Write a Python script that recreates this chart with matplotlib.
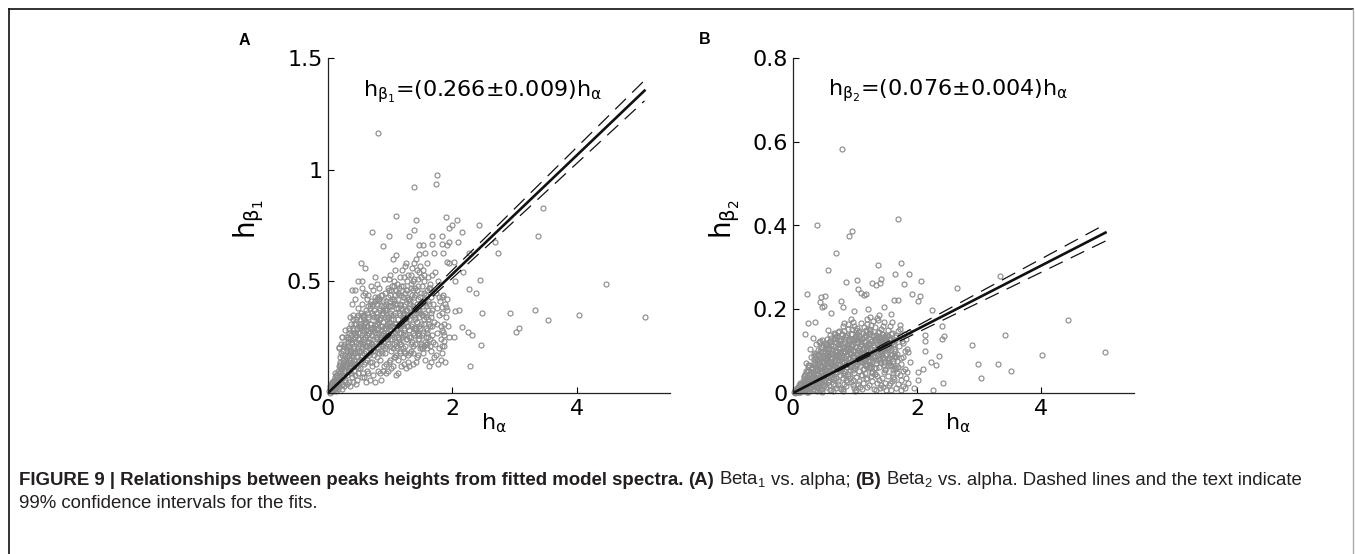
import matplotlib
matplotlib.use("Agg")
import matplotlib.pyplot as plt
from matplotlib.lines import Line2D

# h_alpha of the dense cloud (shared by both panels)
alpha = [
    0.02, 0.03, 0.04, 0.05, 0.06, 0.07, 0.08, 0.09, 0.10, 0.11, 0.12, 0.13,
    0.04, 0.06, 0.08, 0.10, 0.12, 0.14, 0.15, 0.05, 0.09, 0.13, 0.07, 0.11,
    0.16, 0.17, 0.18, 0.19, 0.20, 0.21, 0.22, 0.23, 0.24, 0.25, 0.26, 0.27,
    0.16, 0.18, 0.20, 0.22, 0.24, 0.26, 0.28, 0.29, 0.19, 0.23, 0.27, 0.21,
    0.28, 0.29, 0.30, 0.17, 0.25, 0.30, 0.22, 0.26, 0.18, 0.24, 0.28, 0.20,
    0.31, 0.32, 0.33, 0.34, 0.35, 0.36, 0.37, 0.38, 0.39, 0.40, 0.41, 0.42,
    0.43, 0.44, 0.45, 0.46, 0.47, 0.48, 0.49, 0.50, 0.31, 0.34, 0.37, 0.40,
    0.42, 0.45, 0.48, 0.33, 0.36, 0.39, 0.44, 0.47, 0.50, 0.35, 0.41, 0.46,
    0.32, 0.38, 0.43, 0.49, 0.36, 0.40, 0.47, 0.44, 0.34, 0.48, 0.42, 0.39,
    0.51, 0.52, 0.53, 0.54, 0.55, 0.56, 0.57, 0.58, 0.59, 0.60, 0.61, 0.62,
    0.63, 0.64, 0.65, 0.66, 0.67, 0.68, 0.69, 0.70, 0.52, 0.55, 0.58, 0.61,
    0.64, 0.67, 0.70, 0.53, 0.56, 0.59, 0.62, 0.65, 0.68, 0.54, 0.60, 0.66,
    0.57, 0.63, 0.69, 0.51, 0.58, 0.65, 0.62, 0.56, 0.68, 0.60, 0.53, 0.67,
    0.71, 0.72, 0.73, 0.74, 0.75, 0.76, 0.77, 0.78, 0.79, 0.80, 0.81, 0.82,
    0.83, 0.84, 0.85, 0.86, 0.87, 0.88, 0.89, 0.90, 0.72, 0.75, 0.78, 0.81,
    0.84, 0.87, 0.90, 0.73, 0.76, 0.79, 0.82, 0.85, 0.88, 0.74, 0.80, 0.86,
    0.77, 0.83, 0.89, 0.71, 0.78, 0.85, 0.82, 0.76, 0.88, 0.80, 0.73, 0.87,
    0.91, 0.92, 0.93, 0.94, 0.95, 0.96, 0.97, 0.98, 0.99, 1.00, 1.01, 1.02,
    1.03, 1.04, 1.05, 1.06, 1.07, 1.08, 1.09, 1.10, 0.92, 0.95, 0.98, 1.01,
    1.04, 1.07, 1.10, 0.93, 0.96, 0.99, 1.02, 1.05, 1.08, 0.94, 1.00, 1.06,
    0.97, 1.03, 1.09, 0.91, 0.98, 1.05, 1.02, 0.96, 1.08, 1.00, 0.94, 1.06,
    1.11, 1.12, 1.13, 1.14, 1.15, 1.16, 1.17, 1.18, 1.19, 1.20, 1.21, 1.22,
    1.23, 1.24, 1.25, 1.26, 1.27, 1.28, 1.29, 1.30, 1.12, 1.15, 1.18, 1.21,
    1.24, 1.27, 1.30, 1.13, 1.16, 1.19, 1.22, 1.25, 1.28, 1.14, 1.20, 1.26,
    1.17, 1.23, 1.29, 1.11, 1.18, 1.25, 1.22, 1.16, 1.28, 1.20, 1.14, 1.26,
    1.31, 1.32, 1.33, 1.34, 1.35, 1.36, 1.37, 1.38, 1.39, 1.40, 1.41, 1.42,
    1.43, 1.44, 1.45, 1.46, 1.47, 1.48, 1.49, 1.50, 1.32, 1.35, 1.38, 1.41,
    1.44, 1.47, 1.50, 1.33, 1.36, 1.39, 1.42, 1.45, 1.48, 1.34, 1.40, 1.46,
    1.37, 1.43, 1.49, 1.31, 1.38, 1.45, 1.42, 1.36, 1.48, 1.40, 1.34, 1.46,
    1.51, 1.52, 1.53, 1.54, 1.55, 1.56, 1.57, 1.58, 1.59, 1.60, 1.61, 1.62,
    1.63, 1.64, 1.65, 1.66, 1.67, 1.68, 1.69, 1.70, 1.52, 1.56, 1.60, 1.64,
    1.55, 1.58, 1.62, 1.66, 1.69, 1.53, 1.57, 1.61, 1.65, 1.68, 1.54, 1.59,
    1.71, 1.72, 1.73, 1.74, 1.75, 1.76, 1.77, 1.78, 1.79, 1.80, 1.81, 1.82,
    1.83, 1.84, 1.85, 1.86, 1.87, 1.88, 1.72, 1.75, 1.78, 1.81, 1.84, 1.77,
    0.055, 0.065, 0.075, 0.085, 0.095, 0.105, 0.115, 0.125, 0.135, 0.145, 0.155, 0.165,
    0.175, 0.185, 0.195, 0.205, 0.215, 0.225, 0.235, 0.245, 0.255, 0.265, 0.275, 0.285,
    0.295, 0.305, 0.315, 0.325, 0.335, 0.345, 0.355, 0.365, 0.375, 0.385, 0.395, 0.405,
    0.415, 0.425, 0.435, 0.445, 0.455, 0.465, 0.475, 0.485, 0.495, 0.305, 0.335, 0.365,
    0.395, 0.425, 0.455, 0.485, 0.315, 0.345, 0.375, 0.405, 0.435, 0.465, 0.495, 0.355,
    0.505, 0.515, 0.525, 0.535, 0.545, 0.555, 0.565, 0.575, 0.585, 0.595, 0.605, 0.615,
    0.625, 0.635, 0.645, 0.655, 0.665, 0.675, 0.685, 0.695, 0.705, 0.715, 0.725, 0.735,
    0.745, 0.755, 0.765, 0.775, 0.785, 0.795, 0.805, 0.815, 0.825, 0.835, 0.845, 0.855,
    0.865, 0.875, 0.885, 0.895, 0.515, 0.545, 0.575, 0.605, 0.635, 0.665, 0.695, 0.725,
    0.755, 0.785, 0.815, 0.845, 0.875, 0.525, 0.555, 0.585, 0.615, 0.645, 0.675, 0.705,
    0.735, 0.765, 0.795, 0.825, 0.855, 0.885, 0.905, 0.915, 0.925, 0.935, 0.945, 0.955,
    0.965, 0.975, 0.985, 0.995, 1.005, 1.015, 1.025, 1.035, 1.045, 1.055, 1.065, 1.075,
    1.085, 1.095, 1.105, 1.115, 1.125, 1.135, 1.145, 1.155, 1.165, 1.175, 1.185, 1.195,
    1.205, 1.215, 1.225, 1.235, 1.245, 1.255, 1.265, 1.275, 1.285, 1.295, 0.915, 0.945,
    0.975, 1.005, 1.035, 1.065, 1.095, 1.125, 1.155, 1.185, 1.215, 1.245, 1.275, 0.995,
    1.055, 1.115, 1.175, 1.235, 1.295, 1.025, 1.085, 1.145, 1.205, 1.265, 0.935, 1.135,
    1.305, 1.315, 1.325, 1.335, 1.345, 1.355, 1.365, 1.375, 1.385, 1.395, 1.405, 1.415,
    1.425, 1.435, 1.445, 1.455, 1.465, 1.475, 1.485, 1.495, 1.505, 1.515, 1.525, 1.535,
    1.545, 1.555, 1.565, 1.575, 1.585, 1.595, 1.605, 1.615, 1.625, 1.635, 1.645, 1.655,
    1.335, 1.365, 1.395, 1.425, 1.455, 1.485, 1.515, 1.545, 1.575, 1.605, 1.635, 1.665,
]

# h_beta1 of the dense cloud (panel A)
beta1 = [
    0.01, 0.00, 0.02, 0.01, 0.03, 0.01, 0.04, 0.02, 0.05, 0.02, 0.06, 0.03,
    0.03, 0.02, 0.01, 0.03, 0.02, 0.04, 0.08, 0.04, 0.06, 0.01, 0.05, 0.09,
    0.05, 0.12, 0.03, 0.09, 0.16, 0.06, 0.11, 0.02, 0.19, 0.08, 0.14, 0.05,
    0.02, 0.07, 0.10, 0.04, 0.13, 0.21, 0.09, 0.25, 0.14, 0.17, 0.12, 0.22,
    0.06, 0.15, 0.04, 0.08, 0.03, 0.19, 0.25, 0.10, 0.20, 0.07, 0.28, 0.12,
    0.08, 0.14, 0.27, 0.05, 0.18, 0.11, 0.31, 0.22, 0.07, 0.16, 0.35, 0.10,
    0.25, 0.13, 0.04, 0.19, 0.29, 0.09, 0.38, 0.15, 0.21, 0.12, 0.09, 0.28,
    0.21, 0.33, 0.24, 0.17, 0.24, 0.13, 0.42, 0.06, 0.30, 0.03, 0.18, 0.12,
    0.24, 0.17, 0.08, 0.20, 0.34, 0.05, 0.16, 0.27, 0.29, 0.35, 0.31, 0.40,
    0.11, 0.22, 0.36, 0.07, 0.17, 0.28, 0.44, 0.13, 0.21, 0.32, 0.05, 0.26,
    0.15, 0.39, 0.09, 0.23, 0.31, 0.18, 0.48, 0.12, 0.29, 0.40, 0.33, 0.19,
    0.27, 0.06, 0.36, 0.16, 0.09, 0.25, 0.42, 0.34, 0.24, 0.47, 0.14, 0.20,
    0.24, 0.21, 0.29, 0.31, 0.07, 0.44, 0.10, 0.35, 0.40, 0.45, 0.19, 0.14,
    0.22, 0.35, 0.08, 0.17, 0.41, 0.27, 0.13, 0.31, 0.49, 0.20, 0.10, 0.38,
    0.25, 0.15, 0.44, 0.06, 0.30, 0.21, 0.36, 0.12, 0.46, 0.05, 0.24, 0.29,
    0.33, 0.18, 0.51, 0.29, 0.19, 0.16, 0.23, 0.28, 0.41, 0.37, 0.43, 0.24,
    0.34, 0.09, 0.27, 0.14, 0.42, 0.19, 0.47, 0.52, 0.10, 0.32, 0.40, 0.36,
    0.26, 0.18, 0.40, 0.09, 0.31, 0.47, 0.22, 0.14, 0.36, 0.53, 0.28, 0.11,
    0.42, 0.20, 0.33, 0.50, 0.16, 0.27, 0.38, 0.08, 0.45, 0.24, 0.30, 0.19,
    0.35, 0.44, 0.23, 0.13, 0.34, 0.21, 0.46, 0.12, 0.55, 0.29, 0.39, 0.25,
    0.43, 0.30, 0.17, 0.37, 0.51, 0.27, 0.33, 0.10, 0.31, 0.15, 0.21, 0.41,
    0.29, 0.45, 0.15, 0.36, 0.22, 0.52, 0.31, 0.12, 0.41, 0.26, 0.48, 0.19,
    0.34, 0.57, 0.24, 0.11, 0.43, 0.30, 0.17, 0.38, 0.09, 0.40, 0.27, 0.33,
    0.21, 0.50, 0.28, 0.25, 0.18, 0.55, 0.39, 0.46, 0.14, 0.47, 0.35, 0.32,
    0.38, 0.13, 0.53, 0.20, 0.44, 0.37, 0.28, 0.31, 0.42, 0.16, 0.24, 0.58,
    0.33, 0.18, 0.47, 0.25, 0.56, 0.39, 0.13, 0.29, 0.51, 0.22, 0.36, 0.60,
    0.16, 0.42, 0.27, 0.54, 0.34, 0.20, 0.45, 0.31, 0.40, 0.23, 0.58, 0.14,
    0.37, 0.26, 0.52, 0.30, 0.21, 0.43, 0.28, 0.17, 0.40, 0.49, 0.33, 0.24,
    0.46, 0.55, 0.21, 0.12, 0.35, 0.48, 0.38, 0.27, 0.57, 0.44, 0.19, 0.30,
    0.26, 0.41, 0.18, 0.50, 0.33, 0.15, 0.44, 0.29, 0.58, 0.22, 0.37, 0.12,
    0.47, 0.24, 0.34, 0.19, 0.53, 0.30, 0.40, 0.16, 0.55, 0.36, 0.28, 0.49,
    0.21, 0.39, 0.31, 0.43, 0.23, 0.35, 0.25, 0.52, 0.14, 0.37, 0.45, 0.20,
    0.32, 0.22, 0.45, 0.17, 0.38, 0.27, 0.50, 0.20, 0.35, 0.41, 0.24, 0.30,
    0.18, 0.36, 0.44, 0.26, 0.21, 0.40, 0.54, 0.31, 0.43, 0.15, 0.28, 0.13,
    0.02, 0.04, 0.03, 0.05, 0.02, 0.07, 0.04, 0.08, 0.03, 0.06, 0.10, 0.04,
    0.09, 0.13, 0.06, 0.11, 0.18, 0.08, 0.15, 0.12, 0.22, 0.10, 0.17, 0.13,
    0.20, 0.12, 0.17, 0.23, 0.10, 0.21, 0.15, 0.26, 0.19, 0.14, 0.24, 0.20,
    0.13, 0.27, 0.18, 0.23, 0.31, 0.16, 0.22, 0.27, 0.19, 0.16, 0.28, 0.12,
    0.29, 0.15, 0.26, 0.11, 0.25, 0.15, 0.23, 0.33, 0.25, 0.34, 0.24, 0.19,
    0.19, 0.27, 0.23, 0.30, 0.20, 0.34, 0.22, 0.18, 0.29, 0.25, 0.37, 0.21,
    0.30, 0.26, 0.33, 0.17, 0.27, 0.38, 0.22, 0.31, 0.26, 0.29, 0.24, 0.34,
    0.21, 0.31, 0.36, 0.25, 0.28, 0.40, 0.27, 0.33, 0.18, 0.37, 0.30, 0.22,
    0.35, 0.26, 0.32, 0.39, 0.33, 0.26, 0.31, 0.28, 0.36, 0.21, 0.41, 0.19,
    0.43, 0.34, 0.41, 0.26, 0.44, 0.14, 0.30, 0.35, 0.32, 0.23, 0.29, 0.39,
    0.28, 0.20, 0.31, 0.42, 0.39, 0.23, 0.29, 0.34, 0.25, 0.41, 0.30, 0.37,
    0.27, 0.39, 0.32, 0.24, 0.44, 0.35, 0.26, 0.39, 0.30, 0.42, 0.22, 0.36,
    0.31, 0.46, 0.28, 0.40, 0.33, 0.23, 0.44, 0.35, 0.29, 0.48, 0.25, 0.37,
    0.43, 0.29, 0.36, 0.26, 0.40, 0.33, 0.46, 0.24, 0.35, 0.42, 0.20, 0.33,
    0.46, 0.30, 0.24, 0.48, 0.21, 0.38, 0.19, 0.31, 0.52, 0.18, 0.30, 0.41,
    0.16, 0.49, 0.22, 0.45, 0.25, 0.48, 0.40, 0.27, 0.20, 0.37, 0.38, 0.30,
    0.28, 0.41, 0.35, 0.22, 0.44, 0.31, 0.50, 0.26, 0.38, 0.34, 0.47, 0.29,
    0.40, 0.32, 0.24, 0.51, 0.37, 0.29, 0.43, 0.22, 0.35, 0.48, 0.27, 0.39,
    0.31, 0.23, 0.42, 0.34, 0.27, 0.46, 0.33, 0.25, 0.40, 0.30, 0.21, 0.36,
    0.53, 0.18, 0.29, 0.46, 0.26, 0.36, 0.20, 0.53, 0.22, 0.41, 0.47, 0.26,
]

# h_beta2 of the dense cloud (panel B)
beta2 = [
    0.002, 0.005, 0.001, 0.008, 0.004, 0.012, 0.003, 0.010, 0.006, 0.015, 0.002, 0.009,
    0.006, 0.002, 0.011, 0.004, 0.018, 0.007, 0.013, 0.003, 0.020, 0.005, 0.009, 0.025,
    0.012, 0.030, 0.004, 0.021, 0.045, 0.008, 0.016, 0.035, 0.003, 0.055, 0.024, 0.011,
    0.006, 0.038, 0.014, 0.027, 0.062, 0.005, 0.042, 0.019, 0.009, 0.050, 0.031, 0.072,
    0.013, 0.085, 0.028, 0.017, 0.039, 0.058, 0.003, 0.068, 0.024, 0.020, 0.104, 0.033,
    0.022, 0.048, 0.010, 0.075, 0.036, 0.094, 0.015, 0.057, 0.004, 0.081, 0.043, 0.026,
    0.063, 0.008, 0.110, 0.034, 0.052, 0.019, 0.088, 0.041, 0.060, 0.029, 0.118, 0.012,
    0.072, 0.025, 0.099, 0.040, 0.006, 0.066, 0.031, 0.126, 0.016, 0.052, 0.092, 0.003,
    0.132, 0.037, 0.084, 0.058, 0.024, 0.047, 0.010, 0.101, 0.068, 0.035, 0.122, 0.078,
    0.045, 0.083, 0.014, 0.112, 0.061, 0.027, 0.096, 0.052, 0.138, 0.008, 0.074, 0.038,
    0.105, 0.022, 0.067, 0.144, 0.049, 0.086, 0.011, 0.121, 0.030, 0.128, 0.019, 0.093,
    0.058, 0.131, 0.036, 0.070, 0.150, 0.042, 0.116, 0.005, 0.064, 0.090, 0.054, 0.080,
    0.026, 0.072, 0.098, 0.119, 0.077, 0.033, 0.007, 0.104, 0.140, 0.125, 0.056, 0.018,
    0.063, 0.108, 0.021, 0.085, 0.147, 0.044, 0.127, 0.009, 0.071, 0.160, 0.035, 0.095,
    0.053, 0.137, 0.016, 0.079, 0.114, 0.040, 0.153, 0.067, 0.029, 0.091, 0.120, 0.004,
    0.101, 0.027, 0.129, 0.058, 0.013, 0.141, 0.074, 0.088, 0.164, 0.118, 0.048, 0.032,
    0.082, 0.166, 0.046, 0.133, 0.055, 0.109, 0.022, 0.099, 0.072, 0.010, 0.145, 0.061,
    0.084, 0.036, 0.142, 0.061, 0.112, 0.019, 0.170, 0.075, 0.048, 0.128, 0.092, 0.007,
    0.156, 0.066, 0.103, 0.028, 0.137, 0.087, 0.044, 0.118, 0.095, 0.152, 0.012, 0.070,
    0.122, 0.053, 0.081, 0.026, 0.100, 0.161, 0.039, 0.145, 0.015, 0.176, 0.059, 0.108,
    0.031, 0.096, 0.168, 0.120, 0.089, 0.022, 0.133, 0.056, 0.077, 0.004, 0.094, 0.149,
    0.073, 0.131, 0.025, 0.099, 0.158, 0.047, 0.114, 0.064, 0.177, 0.035, 0.086, 0.140,
    0.018, 0.105, 0.068, 0.163, 0.051, 0.124, 0.090, 0.009, 0.043, 0.082, 0.148, 0.116,
    0.150, 0.029, 0.135, 0.107, 0.070, 0.014, 0.061, 0.182, 0.097, 0.125, 0.102, 0.040,
    0.088, 0.060, 0.172, 0.010, 0.033, 0.118, 0.076, 0.138, 0.048, 0.165, 0.057, 0.094,
    0.110, 0.046, 0.157, 0.080, 0.023, 0.134, 0.095, 0.062, 0.186, 0.012, 0.121, 0.071,
    0.142, 0.037, 0.106, 0.084, 0.169, 0.054, 0.025, 0.128, 0.085, 0.178, 0.031, 0.098,
    0.119, 0.066, 0.007, 0.045, 0.103, 0.146, 0.019, 0.160, 0.091, 0.131, 0.074, 0.050,
    0.174, 0.090, 0.113, 0.059, 0.127, 0.014, 0.152, 0.041, 0.137, 0.099, 0.008, 0.124,
    0.081, 0.136, 0.040, 0.105, 0.018, 0.159, 0.067, 0.093, 0.028, 0.143, 0.055, 0.117,
    0.034, 0.088, 0.126, 0.011, 0.076, 0.047, 0.148, 0.062, 0.109, 0.024, 0.170, 0.100,
    0.130, 0.008, 0.072, 0.139, 0.021, 0.151, 0.115, 0.039, 0.058, 0.094, 0.064, 0.122,
    0.113, 0.042, 0.153, 0.069, 0.030, 0.124, 0.086, 0.017, 0.140, 0.057, 0.101, 0.036,
    0.128, 0.049, 0.097, 0.025, 0.145, 0.074, 0.162, 0.083, 0.119, 0.013, 0.106, 0.052,
    0.004, 0.009, 0.002, 0.014, 0.007, 0.003, 0.016, 0.010, 0.022, 0.006, 0.012, 0.028,
    0.018, 0.041, 0.007, 0.026, 0.052, 0.014, 0.033, 0.066, 0.021, 0.046, 0.011, 0.058,
    0.037, 0.063, 0.019, 0.049, 0.081, 0.028, 0.070, 0.044, 0.091, 0.012, 0.056, 0.102,
    0.035, 0.076, 0.051, 0.097, 0.023, 0.064, 0.109, 0.043, 0.071, 0.027, 0.088, 0.059,
    0.079, 0.018, 0.061, 0.115, 0.047, 0.096, 0.032, 0.069, 0.124, 0.047, 0.085, 0.054,
    0.067, 0.099, 0.041, 0.078, 0.118, 0.055, 0.089, 0.030, 0.107, 0.071, 0.046, 0.131,
    0.084, 0.060, 0.112, 0.093, 0.037, 0.101, 0.073, 0.135, 0.050, 0.090, 0.117, 0.078,
    0.104, 0.066, 0.124, 0.087, 0.142, 0.059, 0.097, 0.111, 0.075, 0.130, 0.044, 0.106,
    0.092, 0.138, 0.081, 0.116, 0.058, 0.083, 0.121, 0.095, 0.047, 0.129, 0.088, 0.069,
    0.096, 0.077, 0.148, 0.119, 0.062, 0.104, 0.072, 0.090, 0.113, 0.068, 0.082, 0.098,
    0.126, 0.109, 0.089, 0.100, 0.134, 0.107, 0.123, 0.065, 0.098, 0.114, 0.079, 0.142,
    0.103, 0.085, 0.127, 0.064, 0.111, 0.150, 0.093, 0.076, 0.120, 0.101, 0.136, 0.083,
    0.112, 0.073, 0.129, 0.095, 0.058, 0.143, 0.107, 0.122, 0.084, 0.100, 0.137, 0.069,
    0.118, 0.091, 0.152, 0.076, 0.128, 0.105, 0.063, 0.139, 0.097, 0.115, 0.056, 0.130,
    0.117, 0.080, 0.140, 0.087, 0.124, 0.102, 0.066, 0.151, 0.110, 0.094, 0.075, 0.134,
    0.127, 0.081, 0.113, 0.146, 0.088, 0.121, 0.098, 0.133, 0.078, 0.125, 0.106, 0.092,
    0.100, 0.126, 0.087, 0.139, 0.071, 0.118, 0.103, 0.145, 0.092, 0.131, 0.080, 0.112,
    0.124, 0.097, 0.140, 0.086, 0.116, 0.074, 0.132, 0.107, 0.094, 0.121, 0.078, 0.137,
    0.111, 0.084, 0.129, 0.068, 0.103, 0.091, 0.125, 0.076, 0.117, 0.089, 0.134, 0.060,
    0.060, 0.082, 0.120, 0.101, 0.134, 0.057, 0.110, 0.073, 0.140, 0.048, 0.104, 0.086,
]

# scattered points outside the cloud, panel A
alpha_out1 = [
    3.45, 3.37, 4.47, 5.09, 4.04, 3.54, 3.33, 2.92, 3.07, 3.02,
    2.46, 2.29, 2.47, 2.45, 2.26, 2.38, 2.73, 2.68, 2.43, 2.26,
    2.16, 2.08, 1.89, 1.99, 1.95, 2.09, 1.94, 1.91, 1.85, 2.03,
    1.94, 2.17, 2.04, 1.91, 1.83, 1.90, 1.92, 1.83, 2.05, 2.11,
    1.89, 1.87, 1.93, 2.16, 2.25, 2.32, 1.85, 1.94, 2.03, 1.87,
    1.84, 1.88, 0.80, 1.76, 1.73, 1.39, 1.09, 1.42, 0.71, 0.98,
    1.39, 1.30, 1.67, 1.83, 0.88, 1.46, 1.53, 1.68, 1.83, 1.05,
    1.09, 1.46, 1.56, 1.70, 1.91, 0.53, 0.60, 0.49, 0.55, 0.39,
    0.44, 0.18, 0.22,
]
beta1_out = [
    0.827, 0.704, 0.490, 0.339, 0.348, 0.329, 0.373, 0.357, 0.289, 0.275,
    0.214, 0.119, 0.357, 0.507, 0.466, 0.448, 0.628, 0.676, 0.753, 0.628,
    0.720, 0.775, 0.790, 0.750, 0.738, 0.674, 0.677, 0.664, 0.628, 0.588,
    0.583, 0.540, 0.501, 0.423, 0.430, 0.385, 0.370, 0.383, 0.367, 0.373,
    0.339, 0.310, 0.302, 0.296, 0.271, 0.259, 0.271, 0.249, 0.251, 0.235,
    0.210, 0.138, 1.164, 0.978, 0.936, 0.921, 0.792, 0.775, 0.720, 0.704,
    0.731, 0.702, 0.704, 0.704, 0.659, 0.664, 0.661, 0.665, 0.667, 0.601,
    0.619, 0.624, 0.628, 0.628, 0.588, 0.580, 0.558, 0.501, 0.500, 0.460,
    0.460, 0.207, 0.251,
]

# scattered points outside the cloud, panel B
alpha_out2 = [
    5.04, 4.44, 4.01, 3.51, 3.30, 3.42, 3.34, 3.04, 2.99, 2.89,
    2.64, 2.42, 2.26, 2.44, 2.41, 2.40, 2.24, 2.35, 2.30, 2.23,
    2.13, 2.13, 2.13, 2.09, 2.02, 2.01, 2.06, 1.87, 1.74, 1.79,
    1.92, 2.05, 2.01, 0.79, 0.38, 0.95, 0.91, 0.70, 1.70, 0.57,
    1.37, 0.86, 1.04, 1.65, 1.42, 1.40, 1.27, 1.34, 1.05, 1.10,
    1.15, 1.18, 0.22, 0.45, 0.52, 0.44, 0.46, 0.50, 0.78, 0.80,
    1.69, 1.63, 0.25, 0.19, 0.62, 0.98, 1.21, 1.47, 1.58, 0.35,
    1.75, 1.95,
]
beta2_out = [
    0.099, 0.174, 0.091, 0.053, 0.070, 0.138, 0.279, 0.036, 0.069, 0.115,
    0.251, 0.024, 0.008, 0.135, 0.129, 0.161, 0.198, 0.089, 0.066, 0.075,
    0.138, 0.123, 0.101, 0.057, 0.051, 0.030, 0.267, 0.285, 0.311, 0.260,
    0.236, 0.231, 0.220, 0.582, 0.400, 0.387, 0.375, 0.335, 0.416, 0.294,
    0.306, 0.264, 0.271, 0.284, 0.272, 0.262, 0.262, 0.258, 0.248, 0.238,
    0.234, 0.236, 0.236, 0.230, 0.232, 0.218, 0.206, 0.208, 0.220, 0.205,
    0.222, 0.222, 0.168, 0.142, 0.190, 0.195, 0.200, 0.205, 0.188, 0.170,
    0.008, 0.012,
]

# fitted slopes and 99% confidence half-widths
slope1, ci1 = 0.266, 0.009
slope2, ci2 = 0.076, 0.004

W, H = 1355, 554
fig = plt.figure(figsize=(W / 100, H / 100), dpi=100)


def box(left, top, right, bottom):
    return [left / W, 1 - bottom / H, (right - left) / W, (bottom - top) / H]


gray = '#8e8e8e'


def panel(ax, xs, ys, xo, yo, slope, ci, ymax, yticks, ylabel, eq, eq_y, ylab_x):
    ax.plot(xs, ys, 'o', ms=3.6, mfc='none', mec=gray, mew=0.85, clip_on=False)
    ax.plot(xo, yo, 'o', ms=3.6, mfc='none', mec=gray, mew=0.85, clip_on=False)
    xmax = max(xo)
    ax.plot([0, xmax], [0, slope * xmax], color='#111111', lw=1.9)
    for s in (slope - ci, slope + ci):
        ax.plot([0, xmax], [0, s * xmax], color='#111111', lw=0.9, dashes=(12, 7))
    ax.set_xlim(0, 5.5)
    ax.set_ylim(0, ymax)
    ax.set_xticks([0, 2, 4])
    ax.set_xticklabels(['0', '2', '4'])
    ax.set_yticks(yticks)
    ax.set_yticklabels(['%g' % v for v in yticks])
    ax.spines['top'].set_visible(False)
    ax.spines['right'].set_visible(False)
    for sp in ('left', 'bottom'):
        ax.spines[sp].set_linewidth(0.9)
        ax.spines[sp].set_color('#222222')
    ax.tick_params(direction='in', length=4.5, width=0.8, labelsize=16, pad=4)
    ax.set_xlabel(r'h$_{\mathregular{\alpha}}$', fontsize=16)
    ax.xaxis.set_label_coords(0.485, -0.055)
    ax.set_ylabel(ylabel, fontsize=20)
    ax.yaxis.set_label_coords(ylab_x, 0.52)
    ax.text(0.56, eq_y, eq, fontsize=16, va='baseline')


ax1 = fig.add_axes(box(328, 58, 670, 393))
ax2 = fig.add_axes(box(793, 58, 1134, 393))

panel(ax1, alpha, beta1, alpha_out1, beta1_out, slope1, ci1, 1.5, [0, 0.5, 1, 1.5],
      r'h$_{\mathregular{\beta_1}}$',
      r'h$_{\mathregular{\beta_1}}$=(0.266±0.009)h$_{\mathregular{\alpha}}$', 1.33, -0.18)
panel(ax2, alpha, beta2, alpha_out2, beta2_out, slope2, ci2, 0.8, [0, 0.2, 0.4, 0.6, 0.8],
      r'h$_{\mathregular{\beta_2}}$',
      r'h$_{\mathregular{\beta_2}}$=(0.076±0.004)h$_{\mathregular{\alpha}}$', 0.71, -0.15)

fig.text(239 / W, 1 - 45 / H, 'A', fontsize=11.5, fontweight='bold', family='Liberation Sans')
fig.text(699 / W, 1 - 44 / H, 'B', fontsize=11.5, fontweight='bold', family='Liberation Sans')

# frame around the figure
fig.add_artist(Line2D([9 / W, 9 / W], [0, 1 - 9 / H], color='#111111', lw=1.2))
fig.add_artist(Line2D([9 / W, 1353 / W], [1 - 9 / H, 1 - 9 / H], color='#111111', lw=1.2))
fig.add_artist(Line2D([1353 / W, 1353 / W], [0, 1 - 9 / H], color='#aaaaaa', lw=1.0))

# caption, drawn piece by piece so bold and normal text share a line
cap_size = 13.4
renderer = fig.canvas.get_renderer()
space = 0.26 * cap_size * 100 / 72


def caption_line(parts, x, y):
    for txt, weight, gap in parts:
        t = fig.text(x / W, 1 - y / H, txt, fontsize=cap_size, fontweight=weight,
                     family='Liberation Sans', color='#231f20')
        x += t.get_window_extent(renderer).width + (space if gap else 0)


caption_line([
    ('FIGURE 9 | Relationships between peaks heights from fitted model spectra.', 'bold', True),
    ('(A)', 'bold', True),
    (r'Beta$_\mathregular{1}$', 'normal', True),
    ('vs. alpha;', 'normal', True),
    ('(B)', 'bold', True),
    (r'Beta$_\mathregular{2}$', 'normal', True),
    ('vs. alpha. Dashed lines and the text indicate', 'normal', False),
], 19, 485)
caption_line([('99% confidence intervals for the fits.', 'normal', False)], 19, 508)

fig.savefig('out.png', dpi=100)
